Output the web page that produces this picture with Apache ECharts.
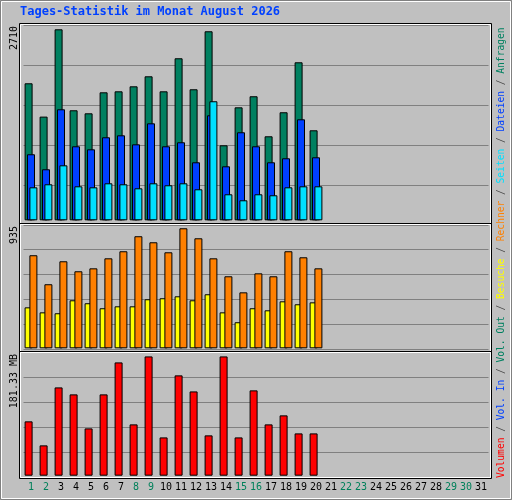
<!DOCTYPE html>
<html><head><meta charset="utf-8">
<script src="https://cdn.jsdelivr.net/npm/echarts@6/dist/echarts.min.js"></script>
<style>html,body{margin:0;padding:0;background:#c0c0c0}#c{width:512px;height:500px}</style>
</head><body><div id="c"></div>
<script>
const days = Array.from({length:31},(_,i)=>String(i+1));
const weekend = ['1','2','8','9','15','16','22','23','29','30'];
const anfragen = [1944,1471,2710,1561,1518,1816,1830,1901,2043,1830,2299,1859,2682,1064,1603,1760,1192,1533,2242,1277];
const dateien = [937,724,1575,1050,1007,1178,1206,1078,1376,1050,1107,823,1490,766,1249,1050,823,880,1433,894];
const seiten = [468,511,780,482,468,525,511,454,525,497,525,440,1689,369,284,369,355,468,482,482];
const besuche = [319,280,273,374,351,312,327,327,382,390,405,374,421,280,203,312,296,366,343,358];
const rechner = [725,499,678,600,623,701,756,873,826,748,935,857,701,561,436,584,561,756,709,623];
const volumen = [82.6,46.1,134.2,123.6,71.9,123.6,172.2,78.0,181.3,58.2,152.5,128.1,61.3,181.3,58.2,129.7,78.0,91.7,64.3,64.3];
const labels = {top:'2710', mid:'935', bot:'181.33 MB'};

const mono = 'DejaVu Sans Mono';
const border = {borderColor:'#000',borderWidth:1};
function bar(name,data,color,xi,z){return {name,type:'bar',data,xAxisIndex:xi,yAxisIndex:xi,barWidth:8,barGap:'-70%',itemStyle:Object.assign({color},border),z,animation:false};}
const grids = [
 {left:23.5,width:465,top:25,height:200},
 {left:23.5,width:465,top:224.3,height:125},
 {left:23.5,width:465,top:352.3,height:125}
];
const splitLine = {show:true,lineStyle:{color:'#808080',width:1}};
const xAxis = grids.map((g,i)=>({type:'category',gridIndex:i,data:days,boundaryGap:true,
  axisLine:{show:false},axisTick:{show:false},
  axisLabel:i===2?{show:true,margin:5,fontFamily:mono,fontSize:10,interval:0,
    color:v=>weekend.includes(v)?'#00805a':'#000'}:{show:false}}));
const yAxis = [
 {min:-66.7,max:2771,interval:567.54},
 {min:-7.8,max:966,interval:194.76},
 {min:-2.43,max:187.57,interval:38}
].map((a,i)=>Object.assign({type:'value',gridIndex:i,axisLabel:{show:false},axisLine:{show:false},axisTick:{show:false},splitLine},a));

const legend = '{r|Volumen}{s| / }{b|Vol. In}{s| / }{g|Vol. Out}{s| / }{y|Besuche}{s| / }{o|Rechner}{s| / }{c|Seiten}{s| / }{b|Dateien}{s| / }{g|Anfragen}';
const rs = c=>({fill:c,font:'9.6px '+mono});
const chart = echarts.init(document.getElementById('c'));
chart.setOption({
 backgroundColor:'#c0c0c0',animation:false,
 grid:grids,xAxis,yAxis,
 series:[
  bar('Anfragen',anfragen,'#008060',0,2),
  bar('Dateien',dateien,'#0040ff',0,3),
  bar('Seiten',seiten,'#00e0ff',0,4),
  bar('Besuche',besuche,'#ffff00',1,2),
  bar('x',[],'#000',1,2),
  bar('Rechner',rechner,'#ff8000',1,3),
  bar('Volumen',volumen,'#ff0000',2,2),
  bar('y',[],'#000',2,2),
  bar('z',[],'#000',2,2)
 ],
 graphic:[
  {type:'rect',shape:{x:0.5,y:0.5,width:511,height:499},style:{fill:null,stroke:'#808080',lineWidth:1},z:50},
  {type:'rect',shape:{x:1.5,y:1.5,width:509,height:497},style:{fill:null,stroke:'#fff',lineWidth:1},z:50},
  {type:'rect',shape:{x:19.5,y:23.5,width:472,height:455},style:{fill:null,stroke:'#000',lineWidth:1},z:50},
  {type:'rect',shape:{x:20.5,y:24.5,width:470,height:453},style:{fill:null,stroke:'#fff',lineWidth:1},z:50},
  {type:'line',shape:{x1:20,y1:223.5,x2:491,y2:223.5},style:{stroke:'#000',lineWidth:1},z:50},
  {type:'line',shape:{x1:20,y1:224.5,x2:491,y2:224.5},style:{stroke:'#fff',lineWidth:1},z:50},
  {type:'line',shape:{x1:20,y1:351.5,x2:491,y2:351.5},style:{stroke:'#000',lineWidth:1},z:50},
  {type:'line',shape:{x1:20,y1:352.5,x2:491,y2:352.5},style:{stroke:'#fff',lineWidth:1},z:50},
  {type:'text',x:20,y:12,style:{text:'Tages-Statistik im Monat August 2026',fill:'#0040ff',font:'bold 12px '+mono,textVerticalAlign:'middle'},z:50},
  {type:'text',x:14,y:26,rotation:Math.PI/2,style:{text:labels.top,fill:'#000',font:'10px '+mono,textAlign:'right',textVerticalAlign:'middle'},z:50},
  {type:'text',x:14,y:226,rotation:Math.PI/2,style:{text:labels.mid,fill:'#000',font:'10px '+mono,textAlign:'right',textVerticalAlign:'middle'},z:50},
  {type:'text',x:14,y:354,rotation:Math.PI/2,style:{text:labels.bot,fill:'#000',font:'10px '+mono,textAlign:'right',textVerticalAlign:'middle'},z:50},
  {type:'text',x:501,y:478,rotation:Math.PI/2,style:{text:legend,font:'9.6px '+mono,textAlign:'left',textVerticalAlign:'middle',
    rich:{r:rs('#ff0000'),b:rs('#0040ff'),g:rs('#008060'),y:rs('#ffff00'),o:rs('#ff8000'),c:rs('#00e0ff'),s:rs('#404040')}},z:50}
 ]
});
</script></body></html>
